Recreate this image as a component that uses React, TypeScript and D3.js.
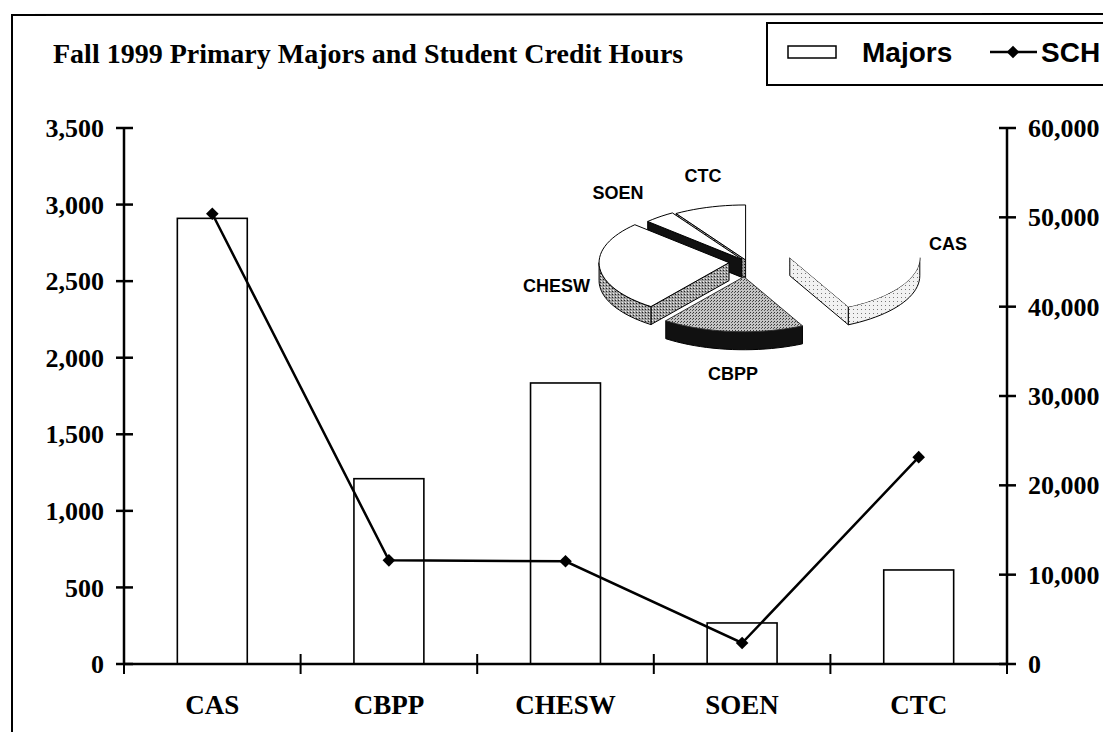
import React from "react";
import * as d3 from "d3";

const categories = ["CAS", "CBPP", "CHESW", "SOEN", "CTC"];
const majors = [2910, 1210, 1835, 268, 614];
const sch = [50400, 11600, 11500, 2350, 23150];
const leftTicks = [0, 500, 1000, 1500, 2000, 2500, 3000, 3500];
const rightTicks = [0, 10000, 20000, 30000, 40000, 50000, 60000];
const title = "Fall 1999 Primary Majors and Student Credit Hours";
const legendLabels = ["Majors", "SCH"];

const W = 1103;
const H = 732;
const SERIF = "'Liberation Serif', 'Times New Roman', serif";
const SANS = "'Liberation Sans', Arial, sans-serif";

// pie styling
const PIE = { cx: 747, cy: 262, rx: 130, ry: 55, depth: 18 };
const explode = [44, 35, 18, 8, 5];
const pieStyle = [
  { top: "#ffffff", topStroke: "none", wall: "url(#stipLight)" },
  { top: "url(#stipMid)", topStroke: "#333", wall: "#111111" },
  { top: "#ffffff", topStroke: "#000", wall: "url(#stipDark)" },
  { top: "#ffffff", topStroke: "#000", wall: "#111111" },
  { top: "#ffffff", topStroke: "#000", wall: "url(#stipDark)" },
];
const pieLabelPos = [
  { x: 948, y: 250, anchor: "middle" },
  { x: 733, y: 380, anchor: "middle" },
  { x: 590, y: 292, anchor: "end" },
  { x: 618, y: 199, anchor: "middle" },
  { x: 703, y: 182, anchor: "middle" },
];

function Pie3D() {
  const arcs = d3
    .pie<number>()
    .sort(null)
    .startAngle(0)
    .endAngle(2 * Math.PI)(majors);
  const { rx, ry, depth } = PIE;
  const s = ry / rx;

  const slices = arcs.map((a, i) => {
    const m = (a.startAngle + a.endAngle) / 2;
    const ox = PIE.cx + Math.sin(m) * explode[i];
    const oy = PIE.cy - Math.cos(m) * explode[i] * s;
    const pt = (ang: number, dz = 0): [number, number] => [
      ox + Math.sin(ang) * rx,
      oy - Math.cos(ang) * ry + dz,
    ];
    const arcPts = (a0: number, a1: number, dz = 0) => {
      const n = Math.max(2, Math.ceil(((a1 - a0) / (2 * Math.PI)) * 120));
      return d3.range(n + 1).map((k) => pt(a0 + ((a1 - a0) * k) / n, dz));
    };
    const line = d3.line();
    const topPts: [number, number][] = [[ox, oy], ...arcPts(a.startAngle, a.endAngle)];
    const topPath = line(topPts) + "Z";
    const walls: string[] = [];
    if (Math.sin(a.startAngle) < 0) {
      const p = pt(a.startAngle);
      walls.push(line([[ox, oy], p, [p[0], p[1] + depth], [ox, oy + depth]]) + "Z");
    }
    if (Math.sin(a.endAngle) > 0.001) {
      const p = pt(a.endAngle);
      walls.push(line([[ox, oy], p, [p[0], p[1] + depth], [ox, oy + depth]]) + "Z");
    }
    const f0 = Math.max(a.startAngle, Math.PI / 2);
    const f1 = Math.min(a.endAngle, (3 * Math.PI) / 2);
    if (f1 > f0) {
      const upper = arcPts(f0, f1);
      const lower = arcPts(f0, f1, depth).reverse();
      walls.push(line([...upper, ...lower]) + "Z");
    }
    return { i, topPath, walls, order: oy - Math.cos(m) * ry * 0.5 };
  });

  const sorted = [...slices].sort((p, q) => p.order - q.order);
  return (
    <g>
      {sorted.map((sl) => (
        <g key={categories[sl.i]}>
          {sl.walls.map((w, k) => (
            <path key={k} d={w} fill={pieStyle[sl.i].wall} stroke="#000" strokeWidth={1} strokeLinejoin="round" />
          ))}
          <path d={sl.topPath} fill={pieStyle[sl.i].top} stroke={pieStyle[sl.i].topStroke} strokeWidth={1} />
        </g>
      ))}
      {categories.map((c, i) => (
        <text
          key={c}
          x={pieLabelPos[i].x}
          y={pieLabelPos[i].y}
          textAnchor={pieLabelPos[i].anchor as any}
          fontFamily={SANS}
          fontWeight="bold"
          fontSize={18}
        >
          {c}
        </text>
      ))}
    </g>
  );
}

export default function App() {
  const x0 = 124;
  const x1 = 1007;
  const yTop = 128;
  const yBase = 664;

  const x = d3
    .scaleBand<string>()
    .domain(categories)
    .range([x0, x1])
    .paddingInner(0.604)
    .paddingOuter(0.302);
  const yL = d3.scaleLinear().domain([0, 3500]).range([yBase, yTop]);
  const yR = d3.scaleLinear().domain([0, 60000]).range([yBase, yTop]);
  const fmt = d3.format(",");
  const gap = (x.step() - x.bandwidth()) / 2;
  const catTicks = [...categories.map((c) => (x(c) as number) - gap), x1];

  const linePath = d3
    .line<number>()
    .x((_, i) => (x(categories[i]) as number) + x.bandwidth() / 2)
    .y((v) => yR(v))(sch);

  const diamond = d3.symbol(d3.symbolSquare, 80)();

  return (
    <svg
      width={W}
      height={H}
      style={{ position: "absolute", left: 0, top: 0, background: "#fff" }}
    >
      <defs>
        <pattern id="stipLight" width={4} height={4} patternUnits="userSpaceOnUse">
          <rect width={4} height={4} fill="#f2f2f2" />
          <rect x={1} y={1} width={1} height={1} fill="#777" />
        </pattern>
        <pattern id="stipMid" width={3} height={3} patternUnits="userSpaceOnUse">
          <rect width={3} height={3} fill="#c4c4c4" />
          <rect x={0} y={0} width={1} height={1} fill="#333" />
          <rect x={2} y={1} width={1} height={1} fill="#555" />
        </pattern>
        <pattern id="stipDark" width={3} height={3} patternUnits="userSpaceOnUse">
          <rect width={3} height={3} fill="#a0a0a0" />
          <rect x={0} y={0} width={1} height={1} fill="#222" />
          <rect x={1} y={2} width={1} height={1} fill="#eee" />
        </pattern>
      </defs>
      <rect x={0} y={0} width={W} height={H} fill="#fff" />
      {/* outer frame */}
      <path d={`M12,${H} L12,15 L${W},14`} fill="none" stroke="#000" strokeWidth={2} />

      {/* title */}
      <text x={53} y={63} fontFamily={SERIF} fontWeight="bold" fontSize={28}>
        {title}
      </text>

      {/* legend */}
      <rect x={767} y={23} width={400} height={62} fill="#fff" stroke="#000" strokeWidth={2} />
      <rect x={788} y={46} width={48} height={12} fill="#fff" stroke="#000" strokeWidth={1.5} />
      <text x={862} y={62} fontFamily={SANS} fontWeight="bold" fontSize={28}>
        {legendLabels[0]}
      </text>
      <line x1={990} y1={52} x2={1037} y2={52} stroke="#000" strokeWidth={2.5} />
      <path d={diamond} transform="translate(1013,52) rotate(45)" fill="#000" />
      <text x={1041} y={62} fontFamily={SANS} fontWeight="bold" fontSize={28}>
        {legendLabels[1]}
      </text>

      {/* bars */}
      {majors.map((v, i) => (
        <rect
          key={categories[i]}
          x={x(categories[i])}
          y={yL(v)}
          width={x.bandwidth()}
          height={yBase - yL(v)}
          fill="#fff"
          stroke="#000"
          strokeWidth={1.6}
        />
      ))}

      {/* pie */}
      <Pie3D />

      {/* axes */}
      <line x1={x0} y1={yTop} x2={x0} y2={yBase} stroke="#000" strokeWidth={2.5} />
      <line x1={x1} y1={yTop} x2={x1} y2={yBase} stroke="#000" strokeWidth={2.5} />
      <line x1={x0} y1={yBase} x2={x1} y2={yBase} stroke="#000" strokeWidth={2.5} />
      {leftTicks.map((t) => (
        <g key={"l" + t}>
          <line x1={x0 - 8} x2={x0 + 9} y1={yL(t)} y2={yL(t)} stroke="#000" strokeWidth={2.5} />
          <text
            x={x0 - 20}
            y={yL(t)}
            dy="0.35em"
            textAnchor="end"
            fontFamily={SERIF}
            fontWeight="bold"
            fontSize={26}
          >
            {fmt(t)}
          </text>
        </g>
      ))}
      {rightTicks.map((t) => (
        <g key={"r" + t}>
          <line x1={x1 - 8} x2={x1 + 9} y1={yR(t)} y2={yR(t)} stroke="#000" strokeWidth={2.5} />
          <text
            x={x1 + 21}
            y={yR(t)}
            dy="0.35em"
            textAnchor="start"
            fontFamily={SERIF}
            fontWeight="bold"
            fontSize={26}
          >
            {fmt(t)}
          </text>
        </g>
      ))}
      {catTicks.map((tx, i) => (
        <line key={"c" + i} x1={tx} x2={tx} y1={yBase - 10} y2={yBase + 10} stroke="#000" strokeWidth={2} />
      ))}
      {categories.map((c) => (
        <text
          key={"cl" + c}
          x={(x(c) as number) + x.bandwidth() / 2}
          y={714}
          textAnchor="middle"
          fontFamily={SERIF}
          fontWeight="bold"
          fontSize={27}
        >
          {c}
        </text>
      ))}

      {/* SCH line */}
      <path d={linePath ?? ""} fill="none" stroke="#000" strokeWidth={2.5} />
      {sch.map((v, i) => (
        <path
          key={"m" + i}
          d={diamond}
          transform={`translate(${(x(categories[i]) as number) + x.bandwidth() / 2},${yR(v)}) rotate(45)`}
          fill="#000"
        />
      ))}
    </svg>
  );
}
